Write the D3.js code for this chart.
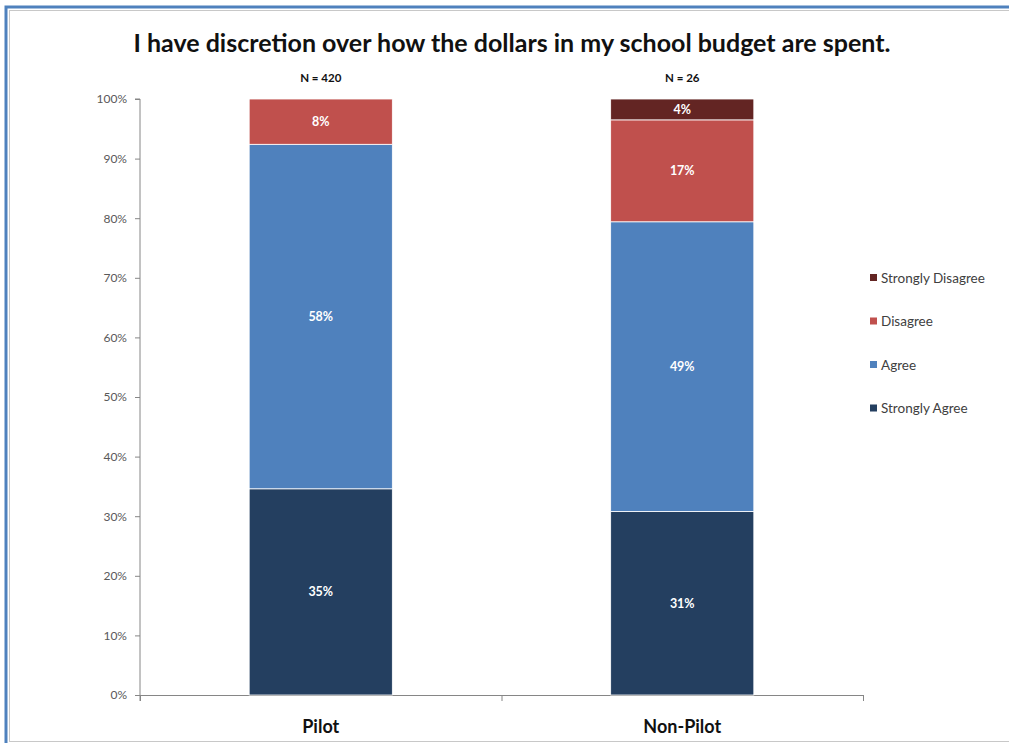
<!DOCTYPE html>
<html>
<head>
<meta charset="utf-8">
<script src="https://cdn.jsdelivr.net/npm/d3@7"></script>
<style>
  html, body { margin: 0; padding: 0; background: #fff; }
  svg { display: block; }
  text { font-family: Lato, "Open Sans", sans-serif; }
</style>
</head>
<body>
<svg id="chart" width="1009" height="743"></svg>
<script>
// Survey responses by school group (percent of respondents)
const categories = ["Pilot", "Non-Pilot"];
const sampleSizes = ["N = 420", "N = 26"];
const seriesNames = ["Strongly Agree", "Agree", "Disagree", "Strongly Disagree"];
const stronglyAgree = [34.6, 30.8];
const agree = [57.8, 48.6];
const disagree = [7.6, 17.1];
const stronglyDisagree = [0, 3.5];
const yTicks = [0, 10, 20, 30, 40, 50, 60, 70, 80, 90, 100];
const colors = ["#243F60", "#4F81BD", "#C0504D", "#632523"];
const title = "I have discretion over how the dollars in my school budget are spent.";

const svg = d3.select("#chart");
const W = 1009, H = 743;

// Frame around the chart object
svg.append("rect").attr("x", 6).attr("y", 7).attr("width", W + 10).attr("height", H + 10)
  .attr("fill", "none").attr("stroke", "#4F81BD").attr("stroke-width", 3);
svg.append("rect").attr("x", 9.5).attr("y", 10.5).attr("width", W + 10).attr("height", 731)
  .attr("fill", "none").attr("stroke", "#C8C8C8").attr("stroke-width", 1);

const plot = { left: 140, right: 863, top: 99, bottom: 695 };

const x = d3.scaleBand().domain(categories).range([plot.left, plot.right]).padding(0);
const barW = x.bandwidth() * 0.396;
const y = d3.scaleLinear().domain([0, 100]).range([plot.bottom, plot.top]);

// Build a stacked layout from the series arrays
const rows = categories.map((c, i) => ({
  cat: c,
  "Strongly Agree": stronglyAgree[i],
  "Agree": agree[i],
  "Disagree": disagree[i],
  "Strongly Disagree": stronglyDisagree[i]
}));
const stacked = d3.stack().keys(seriesNames)(rows);

// Title
svg.append("text").attr("x", 512).attr("y", 52).attr("text-anchor", "middle")
  .attr("font-size", 25).attr("font-weight", 700).attr("fill", "#111")
  .text(title);

// Y axis
const yAxis = d3.axisLeft(y).tickValues(yTicks).tickFormat(d => d + "%").tickSize(5).tickPadding(8);
const gy = svg.append("g").attr("transform", `translate(${plot.left},0)`).call(yAxis);
gy.select(".domain").attr("stroke", "#868686").attr("d", `M-5,${plot.top}H0V${plot.bottom + 6}`);
gy.selectAll(".tick line").attr("stroke", "#868686");
gy.selectAll(".tick text").attr("fill", "#595959").attr("font-size", 12)
  .style("font-family", "Lato, 'Open Sans', sans-serif");

// X axis line with boundary ticks
const boundaries = [plot.left, plot.left + x.step(), plot.right];
svg.append("line").attr("x1", plot.left).attr("x2", plot.right)
  .attr("y1", plot.bottom + 0.5).attr("y2", plot.bottom + 0.5).attr("stroke", "#868686");
svg.selectAll("line.xb").data(boundaries).join("line").attr("class", "xb")
  .attr("x1", d => d + 0.5).attr("x2", d => d + 0.5)
  .attr("y1", plot.bottom).attr("y2", plot.bottom + 6).attr("stroke", "#868686");

// Bars
const layers = svg.append("g").selectAll("g").data(stacked).join("g")
  .attr("fill", (d, i) => colors[i]);
layers.selectAll("rect").data(d => d.filter(s => s[1] - s[0] > 0)).join("rect")
  .attr("x", d => x(d.data.cat) + x.bandwidth() / 2 - barW / 2)
  .attr("width", barW)
  .attr("y", d => y(d[1]))
  .attr("height", d => y(d[0]) - y(d[1]))
  .attr("stroke", "#fff").attr("stroke-width", 0.8);

// Value labels inside segments
layers.selectAll("text").data(d => d.filter(s => s[1] - s[0] > 0)).join("text")
  .attr("x", d => x(d.data.cat) + x.bandwidth() / 2)
  .attr("y", d => (y(d[0]) + y(d[1])) / 2)
  .attr("dy", "0.35em").attr("text-anchor", "middle")
  .attr("fill", "#fff").attr("font-size", 12.5).attr("font-weight", 700)
  .text(d => Math.round(d[1] - d[0]) + "%");

// Sample sizes above bars
svg.selectAll("text.n").data(categories).join("text").attr("class", "n")
  .attr("x", d => x(d) + x.bandwidth() / 2).attr("y", 82)
  .attr("text-anchor", "middle").attr("font-size", 11.5).attr("font-weight", 700).attr("fill", "#111")
  .text((d, i) => sampleSizes[i]);

// Category labels
svg.selectAll("text.cat").data(categories).join("text").attr("class", "cat")
  .attr("x", d => x(d) + x.bandwidth() / 2).attr("y", 733)
  .attr("text-anchor", "middle").attr("font-size", 18).attr("font-weight", 700).attr("fill", "#111")
  .text(d => d);

// Legend (top entry is the top of the stack)
const legendItems = seriesNames.map((n, i) => ({ name: n, color: colors[i] })).reverse();
const lg = svg.append("g").selectAll("g").data(legendItems).join("g")
  .attr("transform", (d, i) => `translate(870,${278 + i * 43.5})`);
lg.append("rect").attr("x", 0).attr("y", -4).attr("width", 7).attr("height", 7).attr("fill", d => d.color);
lg.append("text").attr("x", 11).attr("y", 0).attr("dy", "0.35em")
  .attr("font-size", 13.5).attr("fill", "#404040").text(d => d.name);
</script>
</body>
</html>
